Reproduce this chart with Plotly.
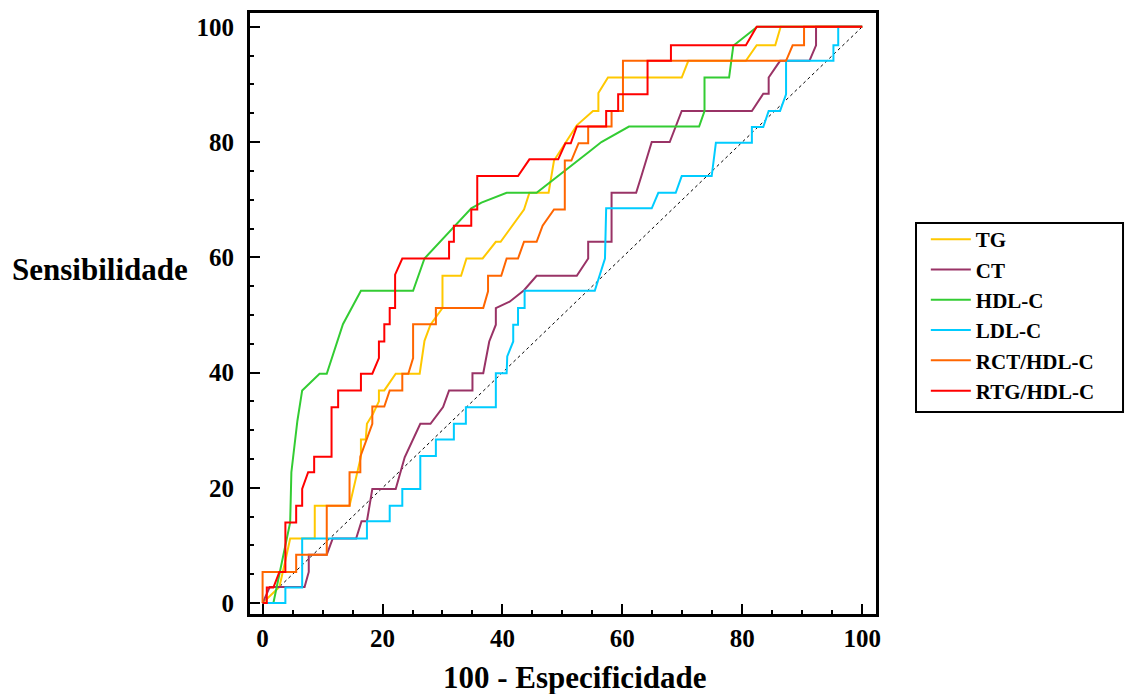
import plotly.graph_objects as go

# ---- data (100 - Especificidade, Sensibilidade) ----
tg_x = [0, 2.8, 3.7, 4.6, 8.7, 8.7, 14.5, 16.4, 16.4, 17.2, 17.4, 18.4, 19.4, 19.4, 20.3, 22.2, 26.2, 27.0, 28.0, 30.0, 30.0, 33.1, 34.0, 36.7, 38.9, 39.7, 43.6, 44.5, 47.7, 48.6, 50.6, 52.4, 55.1, 56.0, 56.0, 57.6, 69.9, 71.0, 80.6, 82.4, 85.5, 86.4, 100]
tg_y = [0, 2.8, 6.9, 11.2, 11.2, 16.9, 16.9, 25.4, 28.4, 28.4, 31.1, 32.8, 35.0, 36.9, 36.9, 39.8, 39.8, 45.5, 48.3, 51.2, 56.8, 56.8, 59.8, 59.8, 62.7, 62.7, 68.3, 71.2, 71.2, 76.8, 80.0, 82.9, 85.4, 85.4, 88.5, 91.2, 91.2, 94.1, 94.1, 96.8, 96.8, 100, 100]

ct_x = [0, 1.2, 7.0, 7.7, 7.7, 10.7, 11.7, 15.6, 16.5, 17.4, 18.3, 22.2, 23.7, 26.3, 28.0, 30.1, 31.1, 35.0, 35.0, 36.8, 37.8, 38.9, 38.9, 41.2, 43.6, 45.7, 52.4, 54.3, 54.3, 58.2, 58.2, 62.3, 63.2, 64.1, 64.9, 67.9, 69.9, 81.6, 83.5, 84.4, 84.4, 86.3, 91.2, 92.3, 92.3, 100]
ct_y = [0, 2.8, 2.8, 5.4, 8.4, 8.4, 11.2, 11.2, 14.2, 14.2, 19.8, 19.8, 25.3, 31.1, 31.1, 34.0, 36.9, 36.9, 39.9, 39.9, 45.4, 48.3, 51.2, 52.3, 54.3, 56.8, 56.8, 59.8, 62.7, 62.7, 71.2, 71.2, 74.2, 77.1, 80.0, 80.0, 85.4, 85.4, 88.4, 88.4, 91.2, 94.1, 94.1, 96.8, 100, 100]

hdl_x = [0, 1.8, 4.6, 4.8, 5.8, 6.6, 9.5, 10.7, 13.4, 16.4, 25.1, 27.0, 34.8, 36.5, 40.7, 45.7, 54.3, 56.5, 61.1, 72.8, 73.7, 73.7, 77.8, 78.5, 82.5, 100]
hdl_y = [0, 0, 14.0, 22.7, 31.6, 36.9, 39.8, 39.8, 48.4, 54.2, 54.2, 59.8, 68.5, 69.5, 71.2, 71.2, 78.2, 80.0, 82.7, 82.7, 85.4, 91.2, 91.2, 96.7, 100, 100]

ldl_x = [0, 3.8, 3.8, 6.6, 6.6, 17.4, 17.4, 21.2, 21.2, 23.3, 23.3, 26.3, 26.3, 28.9, 28.9, 31.9, 31.9, 33.9, 33.9, 38.9, 38.9, 40.7, 40.8, 41.8, 41.8, 42.6, 42.6, 43.7, 43.7, 55.4, 57.1, 57.3, 64.9, 66.0, 68.9, 69.9, 74.9, 75.6, 81.6, 81.6, 83.5, 84.4, 86.3, 87.3, 87.3, 95.2, 95.2, 96.0, 96.0, 100]
ldl_y = [0, 0, 2.7, 2.7, 11.2, 11.2, 14.2, 14.2, 16.9, 16.9, 19.8, 19.8, 25.5, 25.5, 28.4, 28.4, 31.1, 31.1, 34.0, 34.0, 39.9, 39.9, 42.8, 45.4, 48.3, 48.3, 51.2, 51.2, 54.2, 54.2, 59.8, 68.5, 68.5, 71.2, 71.2, 74.1, 74.1, 79.9, 79.9, 82.6, 82.6, 85.4, 85.4, 88.3, 94.1, 94.1, 96.8, 96.8, 100, 100]

rct_x = [0, 0, 5.6, 5.6, 10.7, 10.7, 14.5, 14.5, 16.3, 16.3, 18.3, 18.3, 20.3, 21.2, 23.3, 23.3, 24.3, 25.1, 25.1, 28.9, 28.9, 36.8, 37.6, 37.6, 39.8, 40.7, 42.6, 43.6, 45.7, 46.7, 48.6, 50.4, 50.4, 51.5, 52.7, 54.3, 54.3, 58.2, 58.2, 60.1, 60.1, 87.3, 88.4, 90.3, 90.3, 100]
rct_y = [0, 5.4, 5.4, 8.4, 8.4, 16.9, 16.9, 22.7, 22.7, 25.4, 31.1, 34.1, 34.1, 36.9, 36.9, 39.8, 39.8, 42.5, 48.4, 48.4, 51.2, 51.2, 54.1, 56.8, 56.8, 59.8, 59.8, 62.7, 62.7, 65.5, 68.3, 68.3, 76.8, 76.8, 79.8, 79.8, 82.7, 82.7, 85.4, 85.4, 94.1, 94.1, 96.8, 96.8, 100, 100]

rtg_x = [0, 0.7, 0.7, 1.8, 2.8, 3.8, 3.8, 5.6, 5.6, 6.6, 6.6, 7.6, 8.6, 8.6, 11.5, 11.5, 12.6, 12.6, 16.4, 16.4, 18.3, 19.4, 19.4, 20.3, 20.3, 21.2, 21.2, 22.1, 22.1, 23.3, 31.1, 31.1, 31.9, 31.9, 34.8, 34.8, 35.8, 35.8, 42.6, 44.5, 49.3, 50.5, 51.4, 52.4, 57.3, 57.3, 59.3, 59.3, 64.2, 64.2, 68.1, 68.1, 80.6, 82.4, 100]
rtg_y = [0, 0, 2.7, 2.7, 5.4, 5.4, 14.0, 14.0, 16.9, 16.9, 19.8, 22.7, 22.7, 25.4, 25.4, 34.0, 34.0, 36.9, 36.9, 39.8, 39.8, 42.5, 45.4, 45.4, 48.4, 48.4, 51.2, 51.2, 57.0, 59.8, 59.8, 62.7, 62.7, 65.5, 65.5, 68.3, 68.3, 74.1, 74.1, 77.0, 77.0, 79.8, 79.8, 82.7, 82.7, 85.4, 85.4, 88.3, 88.3, 94.1, 94.1, 96.8, 96.8, 100, 100]

ref_x = [0, 100]
ref_y = [0, 100]

series = [
    ("TG", tg_x, tg_y, "#FFC800"),
    ("CT", ct_x, ct_y, "#993366"),
    ("HDL-C", hdl_x, hdl_y, "#33CC33"),
    ("LDL-C", ldl_x, ldl_y, "#00CCFF"),
    ("RCT/HDL-C", rct_x, rct_y, "#FF6600"),
    ("RTG/HDL-C", rtg_x, rtg_y, "#FF0000"),
]

tick_vals = [0, 20, 40, 60, 80, 100]

FONT = "Liberation Serif"

fig = go.Figure()
fig.add_trace(go.Scatter(x=ref_x, y=ref_y, mode="lines", showlegend=False,
                         line=dict(color="black", width=1, dash="dot"), hoverinfo="skip"))
for name, xs, ys, col in series:
    fig.add_trace(go.Scatter(x=xs, y=ys, mode="lines", name=name,
                             line=dict(color=col, width=2)))

axis_common = dict(
    showgrid=False, zeroline=False, showline=True, linecolor="black", linewidth=3,
    mirror=True, ticks="inside", ticklen=10, tickwidth=2, tickcolor="black",
    tickvals=tick_vals,
    tickfont=dict(family=FONT, size=25, color="black", weight="bold"),
    minor=dict(dtick=5, ticks="inside", ticklen=4, tickwidth=2, tickcolor="black"),
)

fig.update_layout(
    width=1125, height=694,
    margin=dict(l=250, r=249, t=10, b=80),
    paper_bgcolor="white", plot_bgcolor="white",
    xaxis=dict(range=[-2.1, 102.3], ticklabelstandoff=0, **axis_common),
    yaxis=dict(range=[-1.9, 102.4], ticklabelstandoff=8, **axis_common),
    showlegend=True,
    legend=dict(x=1.0796, xanchor="left", y=0.4975, yanchor="middle",
                bgcolor="rgba(0,0,0,0)", borderwidth=0,
                font=dict(family=FONT, size=21, color="black", weight="bold"),
                itemwidth=40),
    shapes=[dict(type="rect", xref="paper", yref="paper",
                 x0=1.0639, x1=1.3946, y0=0.336, y1=0.6507,
                 line=dict(color="black", width=2))],
    annotations=[
        dict(text="Sensibilidade", xref="paper", yref="paper", x=-0.2396, y=0.573,
             xanchor="center", yanchor="middle", showarrow=False,
             font=dict(family=FONT, size=31, color="black", weight="bold")),
        dict(text="100 - Especificidade", xref="paper", yref="paper", x=0.519, y=-0.106,
             xanchor="center", yanchor="middle", showarrow=False,
             font=dict(family=FONT, size=31, color="black", weight="bold")),
    ],
)

fig.write_html("out.html", config={"displayModeBar": False},
               post_script="document.body.style.margin='0';document.body.style.overflow='hidden';")
